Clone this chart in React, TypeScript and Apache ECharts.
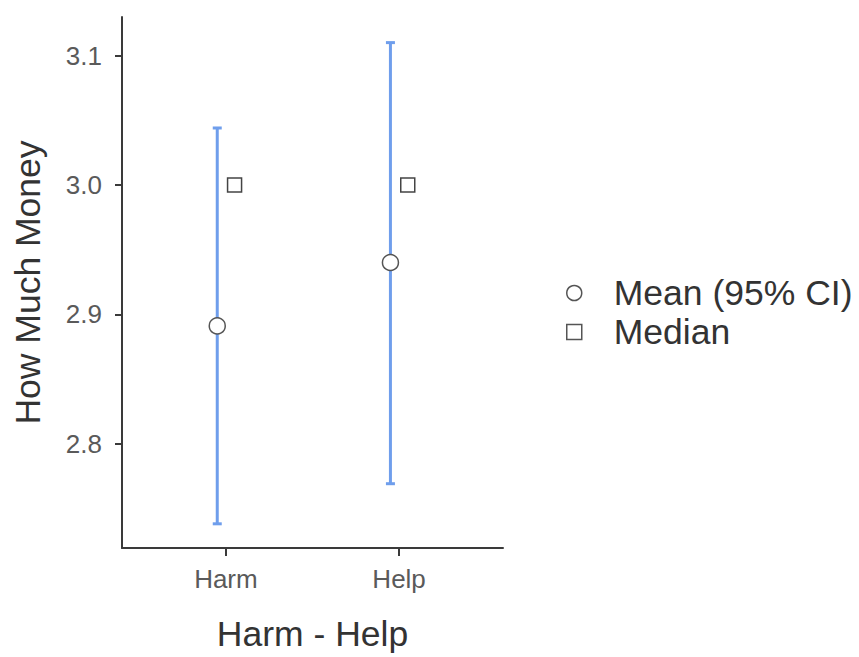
import React, { useEffect, useRef } from "react";
import * as echarts from "echarts";

// Group labels on the x axis
const categories = ["Harm", "Help"];
// Mean with 95% confidence interval for each group
const means = [2.891, 2.94];
const ciLow = [2.738, 2.769];
const ciHigh = [3.044, 3.11];
// Median for each group
const medians = [3.0, 3.0];
// Y tick labels
const yTicks = [2.8, 2.9, 3.0, 3.1];

const DODGE = 0.05;
const FONT = "'Liberation Sans', Arial, sans-serif";

export default function App() {
  const ref = useRef<HTMLDivElement>(null);

  useEffect(() => {
    if (!ref.current) return;
    const chart = echarts.init(ref.current, undefined, { renderer: "svg" });

    const catPos = categories.map((_, i) => i + 1);

    const errData = categories.map((_, i) => [catPos[i] - DODGE, ciLow[i], ciHigh[i]]);
    const meanData = categories.map((_, i) => [catPos[i] - DODGE, means[i]]);
    const medianData = categories.map((_, i) => [catPos[i] + DODGE, medians[i]]);

    const barColor = "#6f9eec";
    const axisColor = "#3a3a3a";

    chart.setOption({
      animation: false,
      backgroundColor: "#ffffff",
      grid: { left: 122, right: 356, top: 17, bottom: 101, containLabel: false },
      legend: {
        orient: "vertical",
        left: 566,
        top: 275,
        padding: 0,
        itemWidth: 15,
        itemHeight: 15,
        itemGap: 3,
        data: ["Mean (95% CI)", "Median"],
        textStyle: {
          fontFamily: FONT,
          fontSize: 35.5,
          lineHeight: 35,
          color: "#333",
          padding: [0, 0, 0, 27],
        },
        itemStyle: { color: "#fff", borderColor: "#555", borderWidth: 1.5 },
      },
      xAxis: {
        type: "value",
        min: 0.4,
        max: 2.6,
        name: "Harm - Help",
        nameLocation: "middle",
        nameGap: 68,
        nameTextStyle: { fontFamily: FONT, fontSize: 35.5, color: "#333" },
        splitLine: { show: false },
        axisLine: { show: true, lineStyle: { color: axisColor, width: 2 } },
        axisTick: {
          show: true,
          length: 8,
          lineStyle: { color: axisColor, width: 2 },
          customValues: catPos,
        },
        axisLabel: {
          customValues: catPos,
          formatter: (v: number) => categories[Math.round(v) - 1] ?? "",
          fontFamily: FONT,
          fontSize: 26,
          color: "#5a5a5a",
          margin: 18,
        },
      },
      yAxis: {
        type: "value",
        min: 2.7193,
        max: 3.1298,
        name: "How Much Money",
        nameLocation: "middle",
        nameGap: 76,
        nameTextStyle: { fontFamily: FONT, fontSize: 35.5, color: "#333" },
        splitLine: { show: false },
        axisLine: { show: true, lineStyle: { color: axisColor, width: 2 } },
        axisTick: {
          show: true,
          length: 7,
          lineStyle: { color: axisColor, width: 2 },
          customValues: yTicks,
        },
        axisLabel: {
          customValues: yTicks,
          formatter: (v: number) => v.toFixed(1),
          fontFamily: FONT,
          fontSize: 26,
          color: "#5a5a5a",
          margin: 20,
        },
      },
      series: [
        {
          type: "custom",
          name: "CI",
          data: errData,
          z: 1,
          renderItem: (_params: any, api: any) => {
            const x = api.value(0);
            const lo = api.coord([x, api.value(1)]);
            const hi = api.coord([x, api.value(2)]);
            const capW = 4.5;
            const style = { stroke: barColor, lineWidth: 3 };
            return {
              type: "group",
              children: [
                { type: "line", shape: { x1: lo[0], y1: lo[1], x2: hi[0], y2: hi[1] }, style },
                { type: "line", shape: { x1: hi[0] - capW, y1: hi[1], x2: hi[0] + capW, y2: hi[1] }, style },
                { type: "line", shape: { x1: lo[0] - capW, y1: lo[1], x2: lo[0] + capW, y2: lo[1] }, style },
              ],
            };
          },
        },
        {
          type: "scatter",
          name: "Mean (95% CI)",
          data: meanData,
          symbol: "circle",
          symbolSize: 16,
          z: 3,
          itemStyle: { color: "#fff", borderColor: "#555", borderWidth: 1.5, opacity: 1 },
        },
        {
          type: "scatter",
          name: "Median",
          data: medianData,
          symbol: "rect",
          symbolSize: 14,
          z: 3,
          itemStyle: { color: "#fff", borderColor: "#444", borderWidth: 1.5, opacity: 1 },
        },
      ],
    });

    return () => chart.dispose();
  }, []);

  return (
    <div
      ref={ref}
      style={{ position: "absolute", left: 0, top: 0, width: 859, height: 657 }}
    />
  );
}
